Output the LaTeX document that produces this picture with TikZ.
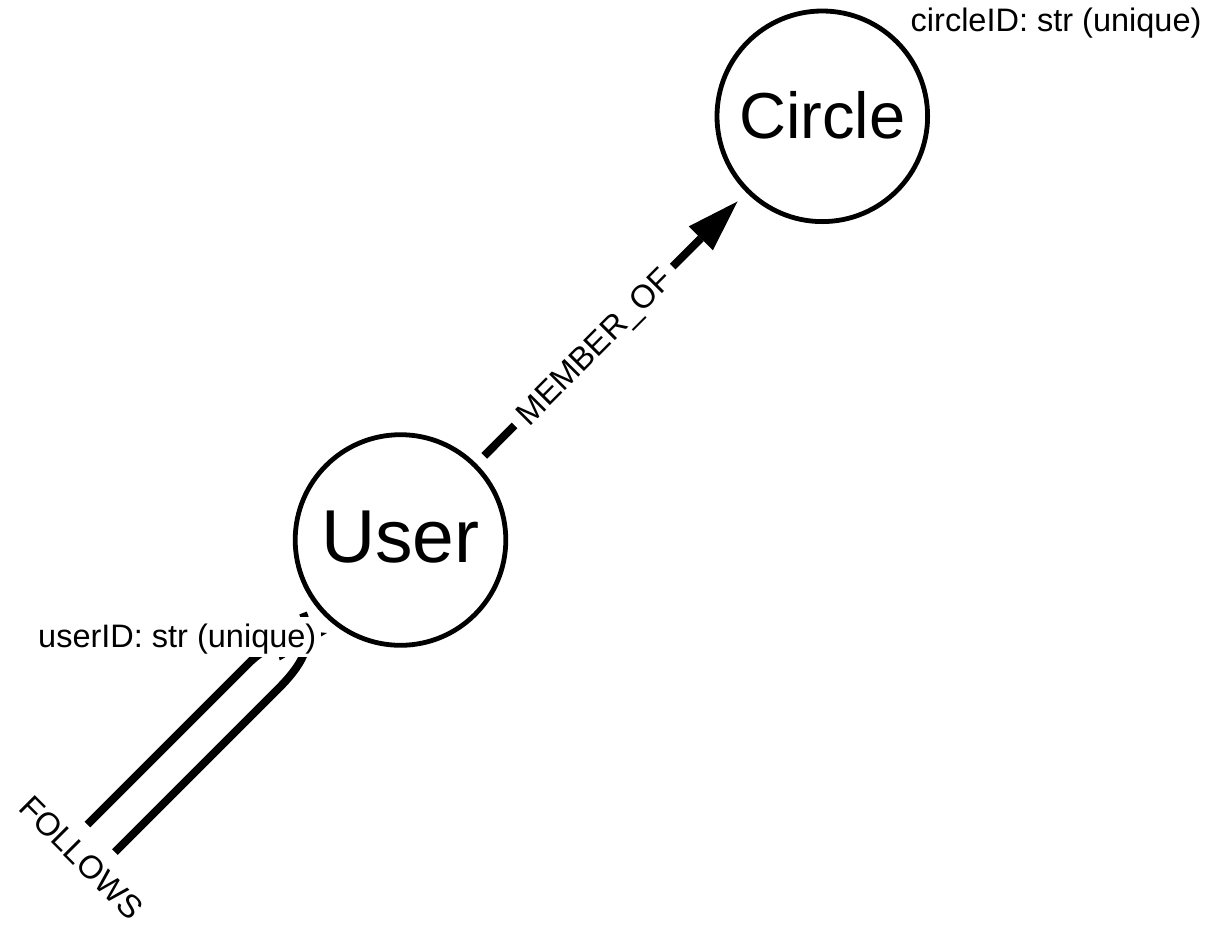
\documentclass[tikz,border=0pt]{standalone}
\usepackage{fontspec}
\setmainfont{Liberation Sans}
\usetikzlibrary{arrows.meta}
\begin{document}
\begin{tikzpicture}[x=1pt,y=-1pt,
  entity/.style={circle, draw=black, fill=white, line width=4.8pt, inner sep=0pt, minimum size=210.6pt},
  proptext/.style={font=\fontsize{32.5}{38}\selectfont, inner sep=0pt},
  relline/.style={draw=black, line width=8pt},
  reltip/.style={-{Triangle[length=52pt,width=34pt,line width=0pt]}},
  rellabel/.style={fill=white, font=\fontsize{32.5}{38}\selectfont, text height=23.2pt, text depth=0pt, inner ysep=6pt, inner xsep=9pt}
]
\fill[white] (0,0) rectangle (1206,940);
\useasboundingbox (0,0) rectangle (1206,940);

% entities
\node[entity, font=\fontsize{75}{90}\selectfont, text height=54pt, text depth=9pt] (user) at (400.5,540) {User};
\node[entity, font=\fontsize{65}{78}\selectfont, text height=46.5pt, text depth=2.5pt] (circle) at (822.3,116.3) {Circle};

% MEMBER_OF
\draw[relline, reltip, shorten <=11pt, shorten >=12.5pt] (user) -- node[rellabel, sloped, pos=0.434] (memberlabel) {MEMBER\_OF} (circle);

% FOLLOWS self loop
\coordinate (loopout) at (303,613);
\coordinate (loopin) at (327,633);
\draw[relline, reltip] (loopout) .. controls (316,645) and (300,667) .. (277,690) -- (115,852)
  .. controls (96.6,870.4) and (68.6,843.4) .. (87,825) -- (250,662)
  .. controls (262,650) and (280,643) .. (loopin);

% property texts
\node[proptext, fill=white, anchor=base west, inner xsep=5pt, inner ysep=0pt, text height=30pt, text depth=10pt] (userprop) at (33,647) {userID: str (unique)};
\node[proptext, anchor=base west] (circleprop) at (910.5,31) {circleID: str (unique)};

% FOLLOWS label
\node[rellabel, rotate=-45, inner sep=15.4pt] (followslabel) at (81.5,857) {FOLLOWS};
\end{tikzpicture}
\end{document}
